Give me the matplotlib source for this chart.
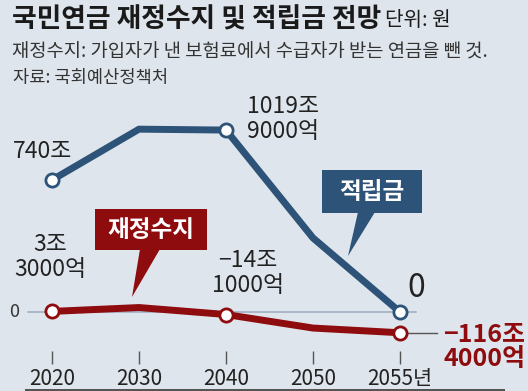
import matplotlib
matplotlib.use("Agg")
import matplotlib.pyplot as plt
from matplotlib.patches import Rectangle, Polygon

plt.rcParams['font.family'] = ['Noto Sans CJK KR', 'DejaVu Sans']

# ---- data ----
years = ["2020", "2030", "2040", "2050", "2055년"]
fund = [740, 1025, 1019.9, 415, 0]          # 적립금 (조 원)
balance = [3.3, 25, -14.1, -90, -116.4]     # 재정수지 (조 원)
fund_marked = [0, 2, 4]
balance_marked = [0, 2, 4]
fund_labels = {0: "740조", 2: "1019조\n9000억", 4: "0"}
balance_labels = {0: "3조\n3000억", 2: "−14조\n1000억", 4: "−116조\n4000억"}

BG = "#dfe5ec"
BLUE = "#2d5379"
RED = "#8e0b0e"
TXT = "#222222"

W, H = 528, 391
fig = plt.figure(figsize=(W / 100, H / 100), dpi=100)
fig.patch.set_facecolor(BG)

def fx(x):
    return x / W

def fy(y):
    return 1 - y / H

# axes: bottom at pixel y=351 (from top)
ax_bottom_px = 351
ax = fig.add_axes([0, fy(ax_bottom_px), 1, 1 - fy(ax_bottom_px)])
ax.set_facecolor("none")
for s in ax.spines.values():
    s.set_visible(False)

xpos = list(range(len(years)))
step = 87.0
x0 = 52.0
ax.set_xlim(-x0 / step, (W - x0) / step)
scale = 132 / 740.0  # px per 조
zero_px_from_axbottom = ax_bottom_px - 312
ax_h = ax_bottom_px
ax.set_ylim(-zero_px_from_axbottom / scale, (ax_h - zero_px_from_axbottom) / scale)

ax.set_xticks(xpos)
ax.set_xticklabels(years, fontsize=15, color=TXT)
ax.tick_params(axis='x', length=9, width=1.0, color="#555555", pad=3.5, direction='out')
ax.set_yticks([])

# zero line
ax.plot([(28 - x0) / step, (416 - x0) / step], [0, 0], color="#9aaabd", lw=1.1, zorder=1)
fig.text(fx(14), fy(312), "0", fontsize=13, color="#333333", ha="center", va="center")

# leader from -116 marker
ax.plot([4, (437 - x0) / step], [balance[4], balance[4]], color="#555555", lw=1.0, zorder=1)

# lines
ax.plot(xpos, fund, color=BLUE, lw=5, solid_joinstyle='round', solid_capstyle='round', zorder=3)
ax.plot(xpos, balance, color=RED, lw=5, solid_joinstyle='round', solid_capstyle='round', zorder=3)
ax.plot([xpos[i] for i in fund_marked], [fund[i] for i in fund_marked], 'o', ms=9.5,
        mfc="white", mec=BLUE, mew=2.0, zorder=4)
ax.plot([xpos[i] for i in balance_marked], [balance[i] for i in balance_marked], 'o', ms=9.5,
        mfc="white", mec=RED, mew=2.0, zorder=4)

# value labels
fig.text(fx(43), fy(152), fund_labels[0], fontsize=16.5, color=TXT, ha="center", va="center")
fig.text(fx(283), fy(119), fund_labels[2], fontsize=16.5, color=TXT, ha="center", va="center",
         linespacing=1.1)
fig.text(fx(416), fy(288), fund_labels[4], fontsize=23, color=TXT, ha="center", va="center")
fig.text(fx(50), fy(257), balance_labels[0], fontsize=16.5, color=TXT, ha="center", va="center",
         linespacing=1.1)
fig.text(fx(248), fy(273), balance_labels[2], fontsize=16.5, color=TXT, ha="center", va="center",
         linespacing=1.1)
fig.text(fx(443), fy(347), balance_labels[4], fontsize=18, color=RED, ha="left", va="center",
         fontweight="bold", linespacing=1.05)

# callout boxes
def box(x1, y1, x2, y2, tail, color, label):
    fig.patches.append(Rectangle((fx(x1), fy(y2)), fx(x2) - fx(x1), fy(y1) - fy(y2),
                                 transform=fig.transFigure, facecolor=color, edgecolor="none", zorder=5))
    fig.patches.append(Polygon([(fx(px), fy(py)) for px, py in tail], closed=True,
                               transform=fig.transFigure, facecolor=color, edgecolor="none", zorder=5))
    fig.text(fx((x1 + x2) / 2), fy((y1 + y2) / 2), label, fontsize=17, color="white",
             ha="center", va="center", fontweight="bold", zorder=6)

box(95, 209, 207, 250, [(140, 249), (160, 249), (132, 297)], RED, "재정수지")
box(322, 170, 422, 213, [(358, 212), (375, 212), (348, 256)], BLUE, "적립금")

# titles
fig.text(fx(12), fy(19), "국민연금 재정수지 및 적립금 전망", fontsize=19.3, fontweight="bold",
         color="#1a1a1a", ha="left", va="center")
fig.text(fx(385), fy(21), "단위: 원", fontsize=14.5, color="#1a1a1a", ha="left", va="center")
fig.text(fx(12), fy(52), "재정수지: 가입자가 낸 보험료에서 수급자가 받는 연금을 뺀 것.", fontsize=13.5,
         color="#333333", ha="left", va="center")
fig.text(fx(13), fy(78), "자료: 국회예산정책처", fontsize=12.7, color="#333333", ha="left", va="center")

# bottom shadow strip
fig.patches.append(Rectangle((fx(25), 0), fx(505) - fx(25), 2 / H, transform=fig.transFigure,
                             facecolor="#555555", edgecolor="none", zorder=0))

fig.savefig("out.png", dpi=100, facecolor=BG)
